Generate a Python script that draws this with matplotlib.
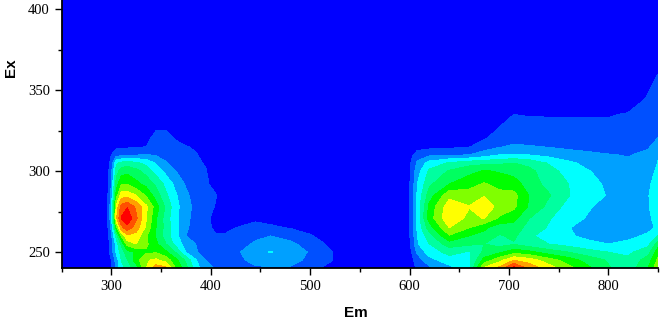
import numpy as np
import matplotlib
matplotlib.use('Agg')
import matplotlib.pyplot as plt
from matplotlib.ticker import MultipleLocator

# emission wavelengths, two halves of the map
em_left = [250, 295, 300, 305, 310, 316, 325, 335, 345, 355, 365, 375, 385, 395, 405, 415, 430, 445, 460, 480, 500, 520, 535]
em_right = [595, 602, 608, 620, 640, 660, 675, 690, 705, 720, 740, 760, 780, 800, 820, 840, 850]

# excitation wavelengths, bottom to top
ex = [240, 245, 250, 255, 260, 265, 271, 278, 285, 292, 300, 305, 310, 315, 320, 325, 335, 345, 360, 406]

# intensity, in contour band units
z_left = [
    [0, .2, .9, 2.2, 3.6, 4.4, 5.5, 8.0, 9.6, 9.3, 6.9, 5.4, 3.4, 2.4, 1.9, 1.7, 1.8, 1.9, 1.9, 1.9, 1.3, .7, .2],
    [0, .2, 1.0, 2.4, 4.0, 4.9, 6.5, 7.9, 8.2, 7.6, 6.3, 4.8, 3.1, 2.0, 1.6, 1.5, 1.9, 2.2, 2.4, 2.3, 1.8, 1.1, .4],
    [0, .3, 1.4, 3.2, 4.4, 5.6, 6.2, 6.8, 6.9, 6.2, 4.9, 3.0, 2.1, 1.6, 1.3, 1.3, 2.0, 2.7, 3.05, 2.6, 1.9, 1.1, .5],
    [0, .3, 1.5, 3.4, 5.2, 7.4, 8.0, 7.2, 6.2, 5.0, 3.6, 2.6, 2.0, 1.4, 1.1, 1.1, 1.6, 2.2, 2.4, 2.2, 1.6, .8, .2],
    [0, .3, 1.7, 4.4, 7.0, 8.8, 8.6, 7.1, 5.9, 4.5, 3.3, 2.0, 1.4, 1.2, 1.05, 1.1, 1.3, 1.7, 2.0, 1.7, 1.1, .5, 0],
    [0, .4, 2.2, 6.5, 9.6, 10.6, 9.5, 7.8, 6.0, 4.6, 3.3, 2.2, 1.5, 1.15, .9, .8, 1.1, 1.3, 1.15, .95, .6, .2, 0],
    [0, .5, 2.6, 8.8, 11.1, 11.9, 10.2, 8.1, 6.1, 4.5, 3.2, 2.3, 1.6, 1.15, .8, .5, .5, .8, .7, .5, .2, 0, 0],
    [0, .5, 2.6, 8.2, 10.4, 10.9, 9.8, 8.2, 6.5, 4.8, 3.3, 2.4, 1.7, 1.3, .95, .6, .1, 0, 0, 0, 0, 0, 0],
    [0, .4, 2.3, 6.5, 8.5, 8.6, 8.0, 6.9, 5.5, 4.2, 3.1, 2.2, 1.6, 1.3, 1.05, .4, 0, 0, 0, 0, 0, 0, 0],
    [0, .3, 2.0, 5.5, 6.9, 7.0, 6.3, 5.7, 4.8, 3.7, 2.7, 1.9, 1.4, 1.15, .7, .2, 0, 0, 0, 0, 0, 0, 0],
    [0, .3, 1.7, 4.5, 5.5, 5.7, 5.3, 4.6, 3.6, 2.7, 2.0, 1.5, 1.25, 1.05, .5, .1, 0, 0, 0, 0, 0, 0, 0],
    [0, .2, 1.4, 3.8, 4.3, 4.5, 4.2, 3.7, 2.9, 2.1, 1.6, 1.3, 1.1, .95, .3, 0, 0, 0, 0, 0, 0, 0, 0],
    [0, .1, 1.0, 1.6, 1.7, 1.8, 1.95, 2.05, 1.9, 1.6, 1.4, 1.2, 1.05, .8, .2, 0, 0, 0, 0, 0, 0, 0, 0],
    [0, 0, .4, .8, .85, .85, .9, 1.0, 1.4, 1.4, 1.2, 1.05, .9, .4, .05, 0, 0, 0, 0, 0, 0, 0, 0],
    [0, 0, 0, 0, 0, .1, .3, .85, 1.2, 1.25, .95, .7, .4, .1, 0, 0, 0, 0, 0, 0, 0, 0, 0],
    [0, 0, 0, 0, 0, 0, 0, .5, 1.0, 1.0, .6, .3, .1, 0, 0, 0, 0, 0, 0, 0, 0, 0, 0],
    [0, 0, 0, 0, 0, 0, 0, .1, .2, .2, .1, 0, 0, 0, 0, 0, 0, 0, 0, 0, 0, 0, 0],
    [0] * 23,
    [0] * 23,
    [0] * 23,
]
z_right = [
    [0, .6, 1.2, 1.8, 2.6, 3.8, 8.2, 9.3, 11.5, 9.8, 8.5, 7.4, 6.2, 5.1, 4.4, 6.0, 7.8],
    [0, .7, 1.5, 2.6, 3.6, 3.7, 6.4, 7.6, 9.0, 8.5, 7.5, 6.5, 5.6, 4.9, 4.2, 5.5, 7.2],
    [0, 1.0, 2.2, 3.5, 4.3, 3.9, 5.2, 5.8, 6.6, 6.3, 5.5, 5.0, 4.4, 4.0, 3.8, 4.6, 6.6],
    [0, 1.2, 2.9, 4.0, 5.5, 5.2, 5.0, 4.6, 4.9, 4.4, 4.0, 3.6, 3.2, 3.0, 3.3, 3.7, 5.5],
    [0, 1.3, 3.0, 4.6, 6.9, 6.0, 5.7, 4.9, 5.2, 4.2, 3.5, 3.1, 2.8, 2.6, 2.7, 3.2, 4.0],
    [0, 1.4, 3.2, 5.5, 8.0, 7.0, 6.2, 5.4, 5.6, 4.6, 3.9, 3.05, 2.6, 2.3, 2.3, 2.7, 3.2],
    [0, 1.5, 3.3, 6.5, 8.8, 7.7, 8.05, 6.9, 6.3, 5.05, 4.1, 3.4, 2.9, 2.5, 2.4, 2.9, 3.2],
    [0, 1.5, 3.3, 6.3, 8.6, 8.05, 8.8, 7.6, 7.2, 5.9, 4.7, 3.6, 3.1, 2.6, 2.4, 2.95, 3.4],
    [0, 1.4, 3.2, 5.5, 7.7, 7.5, 7.9, 7.3, 7.3, 6.0, 5.1, 4.05, 3.3, 2.95, 2.4, 2.95, 3.5],
    [0, 1.3, 3.0, 4.8, 6.0, 6.6, 7.1, 6.7, 6.5, 5.5, 4.7, 4.0, 3.3, 2.85, 2.4, 2.85, 3.4],
    [0, 1.2, 2.6, 4.2, 5.1, 5.7, 6.1, 5.9, 5.6, 5.3, 4.4, 3.6, 3.05, 2.6, 2.4, 2.6, 3.2],
    [0, 1.1, 2.2, 3.4, 4.1, 4.6, 4.7, 4.8, 5.0, 4.7, 3.9, 3.2, 2.7, 2.3, 2.15, 2.3, 3.05],
    [0, .8, 1.5, 1.8, 1.9, 2.0, 2.5, 3.0, 3.1, 3.0, 2.7, 2.4, 2.2, 2.05, 1.95, 2.2, 2.9],
    [0, .2, .6, .7, .8, .95, 1.5, 1.9, 2.2, 2.1, 1.95, 1.8, 1.7, 1.6, 1.5, 1.9, 2.4],
    [0, 0, 0, 0, .3, .5, .95, 1.3, 1.6, 1.5, 1.4, 1.35, 1.3, 1.3, 1.3, 1.6, 2.05],
    [0, 0, 0, 0, 0, .2, .6, 1.1, 1.35, 1.3, 1.25, 1.2, 1.2, 1.2, 1.2, 1.4, 1.8],
    [0, 0, 0, 0, 0, 0, .1, .6, 1.0, .95, .95, .95, .95, .95, 1.05, 1.2, 1.4],
    [0, 0, 0, 0, 0, 0, 0, 0, .2, .2, .2, .2, .2, .3, .6, 1.05, 1.25],
    [0, 0, 0, 0, 0, 0, 0, 0, 0, 0, 0, 0, 0, 0, .1, .8, 1.0],
    [0] * 17,
]

band_colors = ['#0000ff', '#0050ff', '#00a0ff', '#00ffff', '#00ffa0', '#00ff60',
               '#00ff00', '#80ff00', '#ffff00', '#ffa000', '#ff5000', '#ff0000']
levels = list(range(13))

em = em_left + em_right
z = np.hstack([np.array(z_left), np.array(z_right)])

fig = plt.figure(figsize=(6.61, 3.22), dpi=100)
ax = fig.add_axes([61.6 / 661, 53.7 / 322, 596.4 / 661, 268.3 / 322])
ax.contourf(em, ex, z, levels=levels, colors=band_colors, antialiased=False)

ax.set_xlim(250, 850)
ax.set_ylim(240, 405.6)

ax.spines['top'].set_visible(False)
ax.spines['right'].set_visible(False)
ax.spines['left'].set_linewidth(1.3)
ax.spines['bottom'].set_linewidth(1.3)

ax.xaxis.set_major_locator(MultipleLocator(100))
ax.xaxis.set_minor_locator(MultipleLocator(50))
ax.yaxis.set_major_locator(MultipleLocator(50))
ax.yaxis.set_minor_locator(MultipleLocator(25))
ax.tick_params(which='major', length=5, width=1, pad=3.5)
ax.tick_params(which='minor', length=3, width=1)
for lab in ax.get_xticklabels() + ax.get_yticklabels():
    lab.set_family('Liberation Serif')
    lab.set_fontsize(10.5)

ax.set_xlabel('Em', family='Liberation Sans', fontweight='bold', fontsize=11, va='center')
ax.set_ylabel('Ex', family='Liberation Sans', fontweight='bold', fontsize=11, va='center')
# labels do not sit at the axis centre in the original
ax.xaxis.set_label_coords(0.4936, -45 / 268.3)
ax.yaxis.set_label_coords(-50.6 / 596.4, 0.746)

fig.savefig('out.png', dpi=100)
